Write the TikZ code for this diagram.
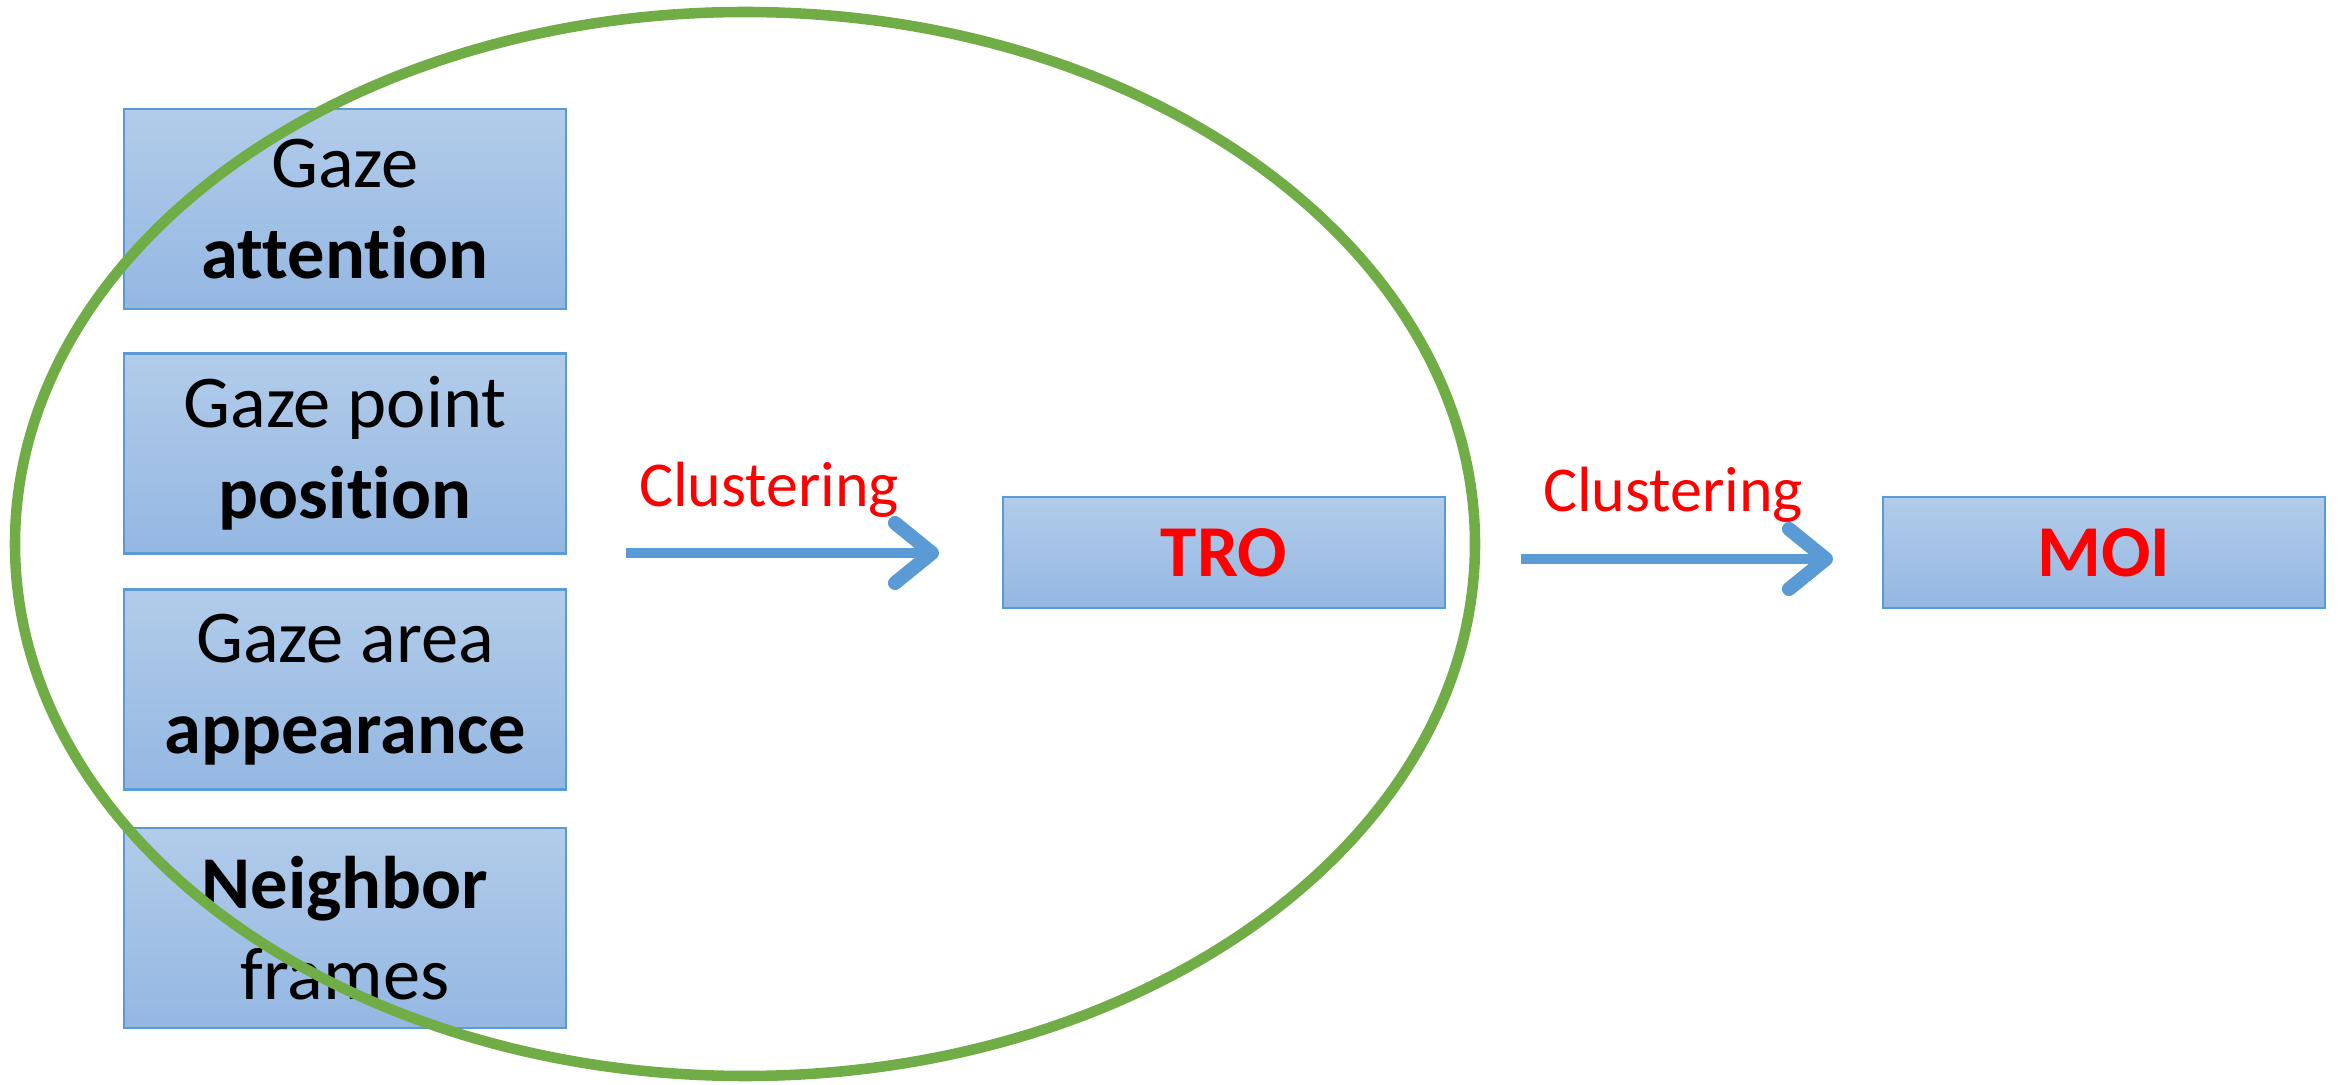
\documentclass[tikz,border=0pt]{standalone}
\usepackage{fontspec}
\setmainfont[Ligatures=NoCommon]{Carlito}
\usepackage{tikz}
\usetikzlibrary{arrows.meta,positioning}
\definecolor{boxtop}{HTML}{B2CCEA}
\definecolor{boxbot}{HTML}{94B7E2}
\definecolor{boxline}{HTML}{5B9BD5}
\definecolor{ringgreen}{HTML}{70AD47}
\tikzset{
  cue/.style={rectangle,draw=boxline,line width=0.6pt,top color=boxtop,bottom color=boxbot,
    minimum width=4.42cm,minimum height=2cm,inner sep=0pt,align=center,
    font=\fontsize{21.2}{25.8}\selectfont},
  result/.style={cue,minimum height=1.11cm,text=red,font=\fontsize{20.8}{25.5}\selectfont\bfseries},
  steplabel/.style={text=red,inner sep=0pt,font=\fontsize{18.2}{22}\selectfont},
  flow/.style={draw=boxline,line width=2.8pt,
    -{Straight Barb[length=3.7mm,width=6mm,line width=4pt,round]}},
}
\begin{document}
\begin{tikzpicture}
\useasboundingbox (0,0) rectangle (23.43,10.85);
% gaze cues on the left
\node (att) [cue] at (3.45,8.76) {Gaze\\\textbf{attention}};
\node (pos) [cue] at (3.45,6.315) {Gaze point\\\textbf{position}};
\node (app) [cue] at (3.45,3.955) {Gaze area\\\textbf{appearance}};
\node (nbr) [cue] at (3.45,1.57) {\textbf{Neighbor}\\frames};
%
\node (tro) [result] at (12.24,5.325) {TRO};
\node (moi) [result] at (21.04,5.325) {MOI};
%
\coordinate (a1) at (6.26,5.32);
\coordinate (b1) at (9.39,5.32);
\coordinate (a2) at (15.21,5.26);
\coordinate (b2) at (18.33,5.26);
\path[flow] (a1) -- (b1);
\path[flow] (a2) -- (b2);
\node (c1) [steplabel] at (7.69,5.95) {Clustering};
\node (c2) [steplabel] at (16.73,5.90) {Clustering};
%
% ring round the cues and TRO, on top
\draw[ringgreen,line width=3pt] (7.45,5.41) ellipse [x radius=7.30,y radius=5.32];
\end{tikzpicture}
\end{document}
